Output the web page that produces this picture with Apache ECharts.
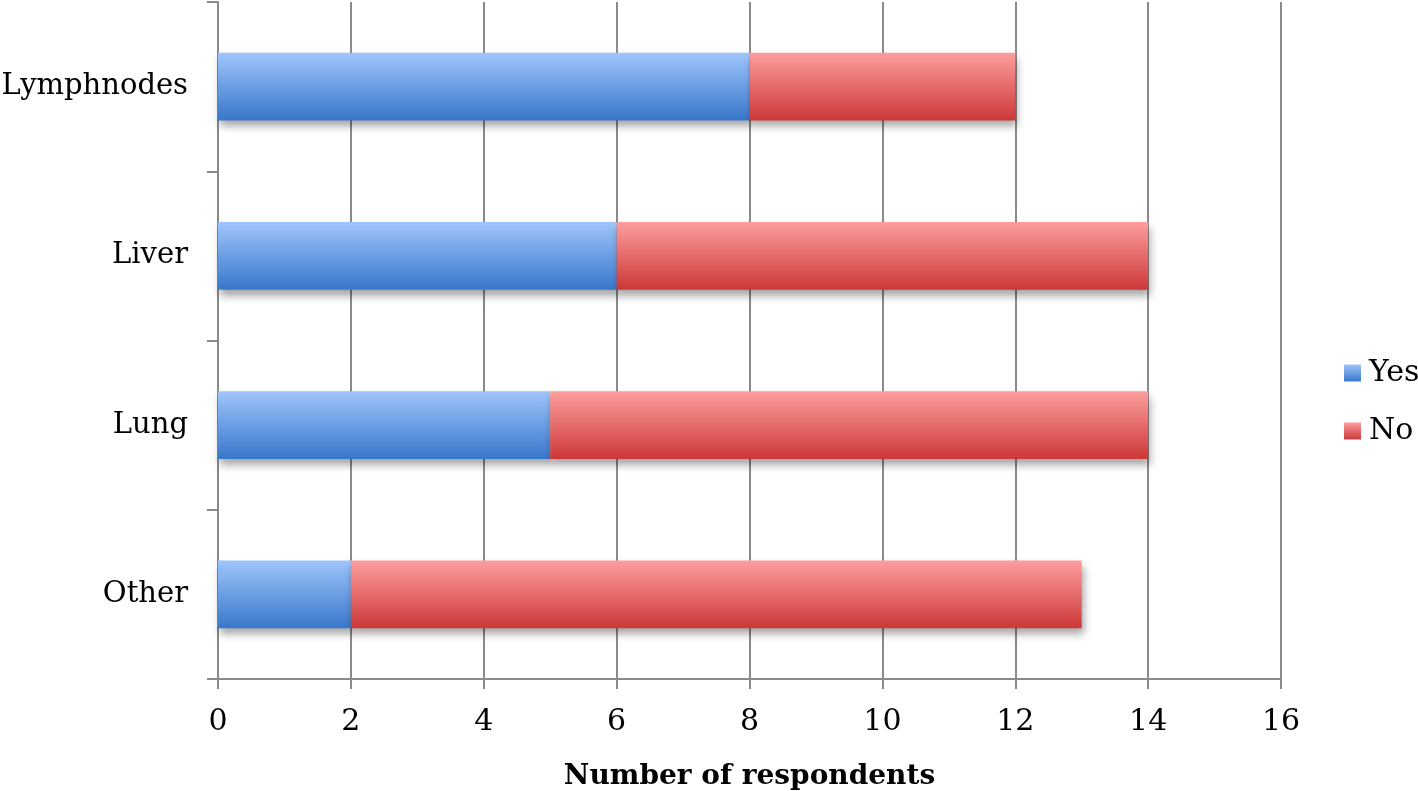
<!DOCTYPE html>
<html><head><meta charset="utf-8">
<script src="https://cdn.jsdelivr.net/npm/echarts@6/dist/echarts.min.js"></script>
<style>html,body{margin:0;padding:0;background:#fff}#c{width:1418px;height:791px}</style>
</head><body><div id="c"></div>
<script>
const categories = ['Other', 'Lung', 'Liver', 'Lymphnodes'];
const yesValues = [2, 5, 6, 8];
const noValues = [11, 9, 8, 4];
const xTicks = [0, 2, 4, 6, 8, 10, 12, 14, 16];
const seriesNames = ['Yes', 'No'];

const FONT = 'DejaVu Serif';
const chart = echarts.init(document.getElementById('c'));
function grad(top, bottom) {
  return new echarts.graphic.LinearGradient(0, 0, 0, 1, [
    {offset: 0, color: top}, {offset: 1, color: bottom}
  ]);
}
const shadow = {shadowColor: 'rgba(0,0,0,0.35)', shadowBlur: 8, shadowOffsetY: 6, shadowOffsetX: 2};
chart.setOption({
  animation: false,
  backgroundColor: '#fff',
  grid: {left: 218, right: 137, top: 2, bottom: 112, containLabel: false, outerBoundsMode: 'none'},
  legend: {
    orient: 'vertical', left: 1339, top: 353, itemWidth: 17, itemHeight: 17, itemGap: 28,
    icon: 'rect',
    textStyle: {fontFamily: FONT, fontSize: 30, color: '#000', padding: [0, 0, 0, 3]},
    data: seriesNames
  },
  xAxis: {
    type: 'value', min: 0, max: 16, interval: 2,
    axisLine: {show: true, lineStyle: {color: '#8a8a8a', width: 2}},
    axisTick: {show: true, length: 10, lineStyle: {color: '#8a8a8a', width: 2}},
    splitLine: {show: true, lineStyle: {color: '#8a8a8a', width: 2}},
    axisLabel: {fontFamily: FONT, fontSize: 30, color: '#000', margin: 28,
      formatter: v => xTicks.includes(v) ? String(v) : ''},
    name: 'Number of respondents', nameLocation: 'middle', nameGap: 84,
    nameTextStyle: {fontFamily: FONT, fontSize: 28, fontWeight: 'bold', color: '#000'}
  },
  yAxis: {
    type: 'category', data: categories,
    axisLine: {show: true, lineStyle: {color: '#8a8a8a', width: 2}},
    axisTick: {show: true, length: 11, lineStyle: {color: '#8a8a8a', width: 2}},
    axisLabel: {fontFamily: FONT, fontSize: 29, color: '#000', margin: 30}
  },
  series: [
    {name: seriesNames[0], type: 'bar', stack: 's', barWidth: '40%', data: yesValues,
     itemStyle: Object.assign({color: grad('#9fc5fb', '#3877cb')}, shadow)},
    {name: seriesNames[1], type: 'bar', stack: 's', barWidth: '40%', data: noValues,
     itemStyle: Object.assign({color: grad('#fd9d9d', '#cd3838')}, shadow)}
  ]
});
</script></body></html>
